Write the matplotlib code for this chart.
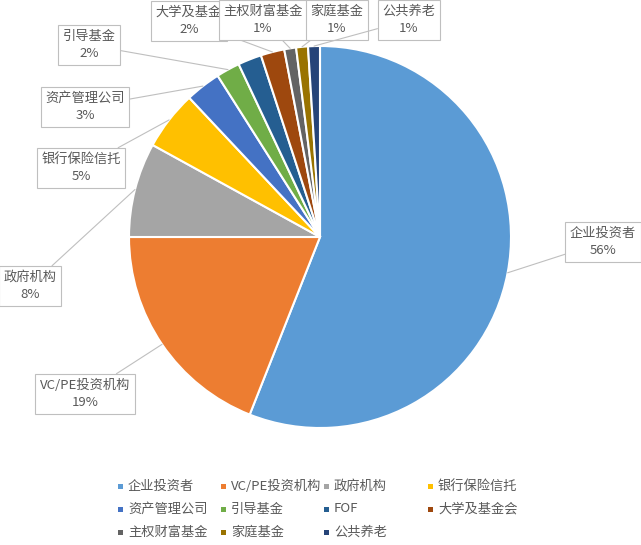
import numpy as np
import matplotlib
matplotlib.use('Agg')
import matplotlib.pyplot as plt
from matplotlib.patches import Rectangle

plt.rcParams['font.family'] = ['Noto Sans CJK SC', 'DejaVu Sans']

# data
categories = ['企业投资者', 'VC/PE投资机构', '政府机构', '银行保险信托', '资产管理公司',
              '引导基金', 'FOF', '大学及基金会', '主权财富基金', '家庭基金', '公共养老']
shares = [56, 19, 8, 5, 3, 2, 2, 2, 1, 1, 1]
colors = ['#5B9BD5', '#ED7D31', '#A5A5A5', '#FFC000', '#4472C4', '#70AD47',
          '#255E91', '#9E480E', '#636363', '#997300', '#264478']

# data label text as it shows in the chart (FOF label hidden, 大学及基金会 cut off)
label_text = ['企业投资者', 'VC/PE投资机构', '政府机构', '银行保险信托', '资产管理公司',
              '引导基金', None, '大学及基金', '主权财富基金', '家庭基金', '公共养老']
# label box centres in pixels from top-left (layout only)
label_pos = [(603, 242), (85, 394), (30, 286), (81, 168), (85, 107), (89, 45),
             None, (189, 21), (263, 20), (337, 20), (409, 20)]

W, H = 641, 545
fig = plt.figure(figsize=(W / 100, H / 100), dpi=100)

cx, cy, r = 320, 237, 191
ax = fig.add_axes([(cx - r) / W, 1 - (cy + r) / H, 2 * r / W, 2 * r / H])
wedges, _ = ax.pie(shares, colors=colors, startangle=90, counterclock=False, radius=1,
                   wedgeprops=dict(edgecolor='white', linewidth=1.5))
ax.set_xlim(-1, 1)
ax.set_ylim(-1, 1)
ax.set_aspect('equal')
ax.axis('off')

# data labels with leader lines
for i, (w, v) in enumerate(zip(wedges, shares)):
    if label_text[i] is None:
        continue
    mid = np.deg2rad((w.theta1 + w.theta2) / 2)
    tip = (np.cos(mid), np.sin(mid))
    px, py = label_pos[i]
    ax.annotate(f'{label_text[i]}\n{v}%', xy=tip, xycoords='data',
                xytext=(px, H - py), textcoords='figure pixels',
                ha='center', va='center', fontsize=9.5, color='#595959',
                linespacing=1.45, zorder=5 + i, annotation_clip=False,
                bbox=dict(boxstyle='square,pad=0.35', fc='white', ec='#BFBFBF', lw=0.8),
                arrowprops=dict(arrowstyle='-', color='#BFBFBF', lw=0.8,
                                shrinkA=0, shrinkB=0))

# legend, row by row
col_x = [120, 223, 326, 430]
row_y = [486, 509, 532]
for i, name in enumerate(categories):
    x = col_x[i % 4]
    y = H - row_y[i // 4]
    fig.patches.append(Rectangle((x - 2.5, y - 2.5), 5, 5, transform=None,
                                 facecolor=colors[i], edgecolor='none'))
    fig.text(x + 8, y, name, transform=None, ha='left', va='center',
             fontsize=9.5, color='#595959')

fig.savefig('out.png', dpi=100, facecolor='white')
